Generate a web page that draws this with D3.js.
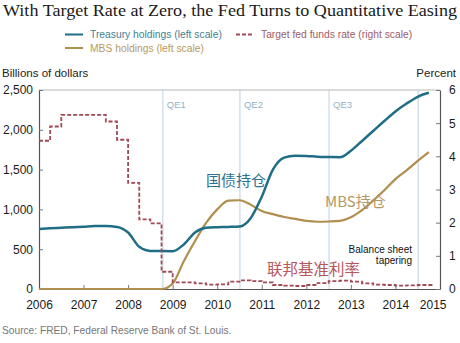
<!DOCTYPE html>
<html>
<head>
<meta charset="utf-8">
<script src="https://cdn.jsdelivr.net/npm/d3@7"></script>
<style>
  body { margin: 0; background: #fff; }
  svg { display: block; font-family: "Liberation Sans", Arial, sans-serif; }
</style>
</head>
<body>
<div id="chart"></div>
<script>
// quarterly observations, 2006Q1 .. 2014Q4
const quarters = d3.range(36).map(i => 2006 + i * 0.25);
const treasury = [755, 763, 770, 777, 783, 790, 790, 780, 710, 530, 478, 476,
                  475, 560, 710, 770, 777, 780, 785, 890, 1160, 1500, 1650, 1675,
                  1672, 1662, 1658, 1655, 1737, 1860, 1985, 2110, 2230, 2330, 2415, 2465];
const mbs = [0, 0, 0, 0, 0, 0, 0, 0, 0, 0, 0, 0,
             70, 350, 600, 830, 1000, 1110, 1115, 1060, 980, 940, 905, 880,
             855, 845, 848, 855, 900, 990, 1110, 1240, 1380, 1490, 1610, 1720];
const fedRate = [4.47, 4.9, 5.25, 5.25, 5.25, 5.25, 5.05, 4.5, 3.2, 2.1, 1.98, 0.52,
                 0.2, 0.2, 0.17, 0.13, 0.14, 0.22, 0.26, 0.24, 0.2, 0.12, 0.1, 0.09,
                 0.12, 0.18, 0.24, 0.25, 0.22, 0.17, 0.13, 0.12, 0.1, 0.11, 0.12, 0.12];
const rateEnd = 2014.83;

const yearTicks = d3.range(2006, 2016);
const leftTicks = [0, 500, 1000, 1500, 2000, 2500];
const rightTicks = [0, 1, 2, 3, 4, 5, 6];

const events = [
    { year: 2008.78, label: 'QE1' },
    { year: 2010.51, label: 'QE2' },
    { year: 2012.51, label: 'QE3' },
    { year: 2014.51, label: '' }
];

const W = 460, H = 343;
const margin = { top: 90, right: 20, bottom: 54, left: 39 };

const svg = d3.select('#chart').append('svg')
    .attr('width', W)
    .attr('height', H);

const x = d3.scaleLinear().domain([2006, 2015]).range([margin.left, W - margin.right]);
const yL = d3.scaleLinear().domain([0, 2500]).range([H - margin.bottom, margin.top]);
const yR = d3.scaleLinear().domain([0, 6]).range([H - margin.bottom, margin.top]);

// title
svg.append('text')
    .attr('x', 3).attr('y', 16)
    .attr('font-family', '"Liberation Serif", "Times New Roman", serif')
    .attr('font-size', 16.5)
    .attr('fill', '#1a1a1a')
    .attr('textLength', 454)
    .attr('lengthAdjust', 'spacingAndGlyphs')
    .text('With Target Rate at Zero, the Fed Turns to Quantitative Easing');

// legend
const legend = [
    { label: 'Treasury holdings (left scale)', color: '#1f6d86', text: '#3f7f96', dash: null, x: 65, y: 34.5 },
    { label: 'Target fed funds rate (right scale)', color: '#a04a55', text: '#9c5c68', dash: '4,2', x: 236, y: 34.5 },
    { label: 'MBS holdings (left scale)', color: '#b08e50', text: '#b9985e', dash: null, x: 65, y: 48 }
];
const lg = svg.append('g').selectAll('g').data(legend).enter().append('g');
lg.append('line')
    .attr('x1', d => d.x).attr('x2', d => d.x + 18)
    .attr('y1', d => d.y).attr('y2', d => d.y)
    .attr('stroke', d => d.color)
    .attr('stroke-width', 2)
    .attr('stroke-dasharray', d => d.dash);
lg.append('text')
    .attr('x', d => d.x + 25).attr('y', d => d.y)
    .attr('dy', '0.35em')
    .attr('font-size', 10.3)
    .attr('fill', d => d.text)
    .text(d => d.label);

// axis titles
svg.append('text').attr('x', 2).attr('y', 77)
    .attr('font-size', 11.5).attr('fill', '#222').text('Billions of dollars');
svg.append('text').attr('x', 456).attr('y', 77)
    .attr('text-anchor', 'end')
    .attr('font-size', 11.5).attr('fill', '#222').text('Percent');

// frame
svg.append('line')
    .attr('x1', margin.left).attr('x2', W - margin.right)
    .attr('y1', margin.top).attr('y2', margin.top)
    .attr('stroke', '#b5b5b5').attr('stroke-width', 1.2);

// event lines
svg.append('g').selectAll('line').data(events).enter().append('line')
    .attr('x1', d => x(d.year)).attr('x2', d => x(d.year))
    .attr('y1', margin.top).attr('y2', H - margin.bottom)
    .attr('stroke', '#bcd0df').attr('stroke-width', 1);
svg.append('g').selectAll('text').data(events).enter().append('text')
    .attr('x', d => x(d.year) + 4).attr('y', 108)
    .attr('font-size', 9.5)
    .attr('fill', '#8fb3c9')
    .text(d => d.label);

// axes
const axisStyle = g => {
    g.select('.domain').attr('stroke', '#555').attr('stroke-width', 1.2);
    g.selectAll('.tick line').attr('stroke', '#777');
    g.selectAll('.tick text').attr('fill', '#1a1a1a').attr('font-size', 12)
        .attr('font-family', '"Liberation Sans", Arial, sans-serif');
};

svg.append('g')
    .attr('transform', `translate(0,${H - margin.bottom})`)
    .call(d3.axisBottom(x).tickValues(yearTicks).tickFormat(d3.format('d'))
        .tickSizeInner(-4).tickSizeOuter(0).tickPadding(11))
    .call(axisStyle)
    .call(g => g.selectAll('.tick text')
        .filter(d => d === 2015)
        .attr('text-anchor', 'end').attr('dx', 6));

svg.append('g')
    .attr('transform', `translate(${margin.left},0)`)
    .call(d3.axisLeft(yL).tickValues(leftTicks).tickFormat(d3.format(','))
        .tickSizeInner(-4).tickSizeOuter(0).tickPadding(6))
    .call(axisStyle);

svg.append('g')
    .attr('transform', `translate(${W - margin.right},0)`)
    .call(d3.axisRight(yR).tickValues(rightTicks).tickFormat(d3.format('d'))
        .tickSizeInner(-4).tickSizeOuter(0).tickPadding(9))
    .call(axisStyle);

// series
const lineL = d3.line().x(d => x(d[0])).y(d => yL(d[1])).curve(d3.curveMonotoneX);

svg.append('path')
    .datum(quarters.map((q, i) => [q, mbs[i]]))
    .attr('fill', 'none')
    .attr('stroke', '#b08e50')
    .attr('stroke-width', 2.2)
    .attr('d', lineL);

svg.append('path')
    .datum(quarters.map((q, i) => [q, treasury[i]]))
    .attr('fill', 'none')
    .attr('stroke', '#1f6d86')
    .attr('stroke-width', 2.5)
    .attr('d', lineL);

const rateData = quarters.map((q, i) => [q, fedRate[i]]);
rateData.push([rateEnd, fedRate[fedRate.length - 1]]);
svg.append('path')
    .datum(rateData)
    .attr('fill', 'none')
    .attr('stroke', '#a04a55')
    .attr('stroke-width', 1.8)
    .attr('stroke-dasharray', '4,2')
    .attr('d', d3.line().x(d => x(d[0])).y(d => yR(d[1])).curve(d3.curveStepAfter));

// annotations
const notes = [
    { text: '国债持仓', x: 206, y: 186, color: '#2a7290', size: 15 },
    { text: 'MBS持仓', x: 325, y: 207, color: '#b39764', size: 15 },
    { text: '联邦基准利率', x: 267, y: 275, color: '#b5575c', size: 15.5 }
];
svg.append('g').selectAll('text').data(notes).enter().append('text')
    .attr('x', d => d.x).attr('y', d => d.y)
    .attr('font-family', '"Noto Sans CJK SC", "Noto Sans", sans-serif')
    .attr('font-size', d => d.size)
    .attr('fill', d => d.color)
    .text(d => d.text);

svg.append('text').attr('x', 412).attr('y', 253)
    .attr('text-anchor', 'end').attr('font-size', 10).attr('fill', '#111')
    .text('Balance sheet');
svg.append('text').attr('x', 412).attr('y', 264)
    .attr('text-anchor', 'end').attr('font-size', 10).attr('fill', '#111')
    .text('tapering');

// source
svg.append('text').attr('x', 2).attr('y', 334)
    .attr('font-size', 10.2).attr('fill', '#777')
    .text('Source: FRED, Federal Reserve Bank of St. Louis.');
</script>
</body>
</html>
